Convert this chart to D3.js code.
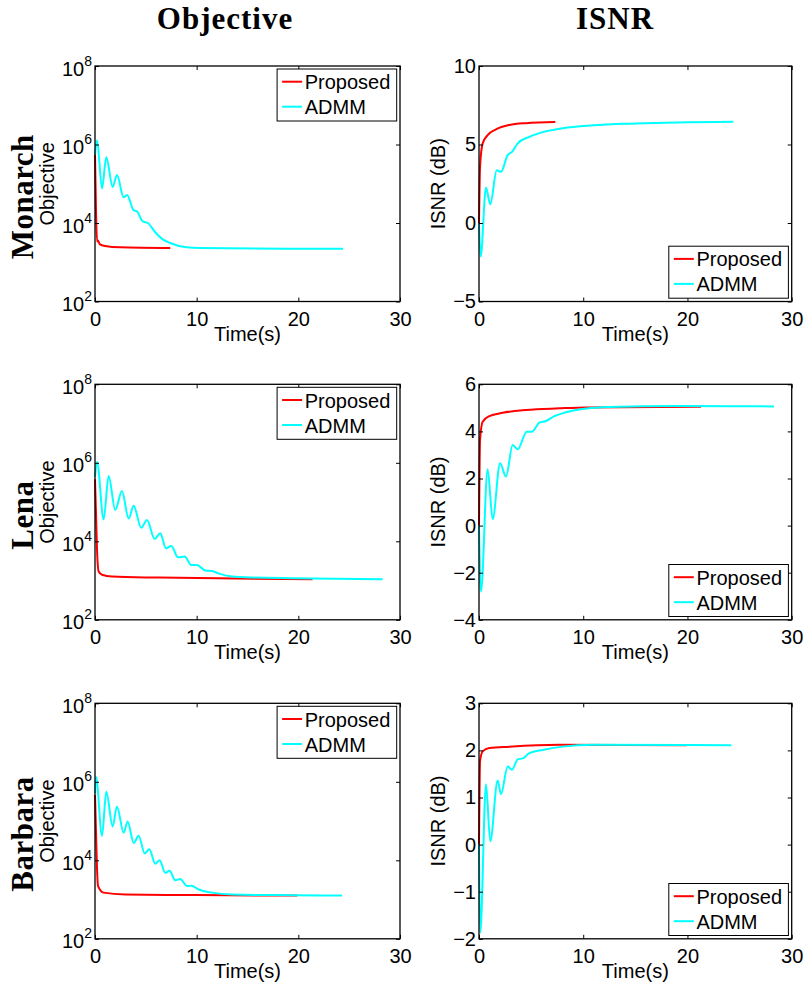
<!DOCTYPE html>
<html><head><meta charset="utf-8">
<script src="https://cdn.jsdelivr.net/npm/d3@7"></script>
<style>body{margin:0;background:#fff} svg{display:block}</style>
</head><body><svg id="c" width="806" height="991"></svg>
<script>
// ---------- data ----------
const columnTitles = ['Objective', 'ISNR'];
const rowNames = ['Monarch', 'Lena', 'Barbara'];
const seriesNames = ['Proposed', 'ADMM'];
const timeTicks = [0, 10, 20, 30];
const objTicks = [1e2, 1e4, 1e6, 1e8];
const isnrTicksMonarch = [-5, 0, 5, 10];
const isnrTicksLena = [-4, -2, 0, 2, 4, 6];
const isnrTicksBarbara = [-2, -1, 0, 1, 2, 3];

// [time (s), objective]
const monarchObjProposed = [[0,5.4e5],[0.1,2e4],[0.2,3.4e3],[0.3,3.6e3],[0.45,2.9e3],[1.0,2.6e3],[2.5,2.4e3],[7.4,2.3e3]];
const monarchObjADMM = [[0,5.4e5],[0.2,1.29e6],[0.69,7.6e4],[1.11,4.7e5],[1.74,8.3e4],[2.16,1.66e5],[2.82,4.5e4],[3.15,5.2e4],[3.81,2.1e4],[4.1,2.0e4],[4.7,1.1e4],[5.2,1.0e4],[5.9,5.9e3],[6.56,4.0e3],[7.38,3.1e3],[9.02,2.4e3],[10.3,2.3e3],[24.4,2.2e3]];
const lenaObjProposed = [[0,3.8e5],[0.1,5e4],[0.2,6e3],[0.36,1.7e3],[0.69,1.4e3],[1.67,1.26e3],[6.3,1.19e3],[21.4,1.08e3]];
const lenaObjADMM = [[0,4.4e5],[0.2,1.05e6],[0.85,3.6e4],[1.34,4.6e5],[1.99,6.3e4],[2.65,1.9e5],[3.31,3.8e4],[3.8,8.0e4],[4.55,2.2e4],[5.11,3.5e4],[5.87,1.15e4],[6.42,1.6e4],[6.98,6.6e3],[7.51,7.6e3],[8.16,3.9e3],[8.82,4.1e3],[9.47,2.5e3],[10.03,2.5e3],[10.85,1.8e3],[11.5,1.75e3],[12.2,1.5e3],[13.5,1.26e3],[15.5,1.19e3],[19.5,1.15e3],[28.3,1.08e3]];
const barbaraObjProposed = [[0,4.6e5],[0.1,5e4],[0.2,6e3],[0.3,2.2e3],[0.85,1.5e3],[3,1.35e3],[10,1.3e3],[19.9,1.26e3]];
const barbaraObjADMM = [[0,5.1e5],[0.1,1.35e6],[0.69,4.2e4],[1.11,5.6e5],[1.74,7.3e4],[2.16,2.35e5],[2.82,5.0e4],[3.21,9.8e4],[3.81,2.75e4],[4.29,4.2e4],[4.89,1.5e4],[5.34,1.9e4],[5.93,8.2e3],[6.36,1.0e4],[6.91,4.8e3],[7.34,5.4e3],[7.89,3.1e3],[8.38,3.35e3],[9.05,2.2e3],[9.47,2.26e3],[10.2,1.8e3],[11.5,1.5e3],[13.5,1.34e3],[19.4,1.29e3],[24.3,1.26e3]];

// [time (s), ISNR (dB)]
const monarchIsnrProposed = [[0,0],[0.1,3.57],[0.35,5.07],[0.83,5.6],[1.63,5.96],[2.91,6.24],[4.51,6.36],[7.32,6.43]];
const monarchIsnrADMM = [[0,0],[0.16,-2.13],[0.67,2.26],[1.08,1.19],[1.7,3.36],[2.11,3.26],[2.75,4.32],[3.17,4.53],[3.71,5.07],[4.83,5.49],[6.11,5.79],[8.03,6.04],[10.9,6.22],[15.1,6.34],[24.4,6.45]];
const lenaIsnrProposed = [[0,0],[0.1,3.64],[0.35,4.41],[0.99,4.65],[2.27,4.79],[4.51,4.91],[7.7,4.98],[10.3,5.02],[21.3,5.05]];
const lenaIsnrADMM = [[0,0],[0.19,-2.8],[0.83,2.39],[1.31,0.27],[2.02,2.65],[2.59,2.08],[3.23,3.42],[3.71,3.24],[4.58,3.99],[5.09,3.99],[5.79,4.37],[6.43,4.44],[7.23,4.65],[8.35,4.81],[9.95,4.95],[12.5,5.04],[18.9,5.08],[28.3,5.06]];
const barbaraIsnrProposed = [[0,0],[0.1,1.77],[0.35,1.98],[0.99,2.05],[2.91,2.08],[7.7,2.12],[19.9,2.11]];
const barbaraIsnrADMM = [[0,0],[0.12,-1.87],[0.67,1.28],[1.08,0.07],[1.79,1.36],[2.11,1.07],[2.75,1.66],[3.17,1.59],[3.71,1.81],[4.19,1.83],[4.83,1.94],[6.11,2.01],[8.03,2.08],[10.9,2.12],[24.2,2.11]];

// ---------- layout ----------
const svg = d3.select('#c');
const SANS = "'Liberation Sans', Arial, Helvetica, sans-serif";
const SERIF = "'Liberation Serif', 'Times New Roman', serif";
const colX = [95, 479], colW = [305, 312.7];
const rowY = [66, 384.3, 703.3], H = 235.5;
const colors = ['#ff0000', '#00ffff'];

const rows = [
  {objP: monarchObjProposed, objA: monarchObjADMM, isP: monarchIsnrProposed, isA: monarchIsnrADMM, isTicks: isnrTicksMonarch},
  {objP: lenaObjProposed, objA: lenaObjADMM, isP: lenaIsnrProposed, isA: lenaIsnrADMM, isTicks: isnrTicksLena},
  {objP: barbaraObjProposed, objA: barbaraObjADMM, isP: barbaraIsnrProposed, isA: barbaraIsnrADMM, isTicks: isnrTicksBarbara}
];

function styleAxis(g){
  g.attr('font-family', SANS).attr('font-size', 20);
  g.select('.domain').remove();
  g.selectAll('.tick line').attr('stroke', '#000').attr('stroke-width', 1);
  g.selectAll('.tick text').attr('fill', '#000');
}

function drawPanel(o){
  const x = d3.scaleLinear().domain([0, 30]).range([o.x0, o.x0 + o.w]);
  const y = o.y;
  const top = o.top, bottom = o.top + H, right = o.x0 + o.w;
  const g = svg.append('g');
  g.append('rect').attr('x', o.x0).attr('y', top).attr('width', o.w).attr('height', H).attr('fill', '#fff');

  const line = d3.line().x(d => x(d[0])).y(d => y(d[1])).curve(d3.curveMonotoneX);
  o.series.forEach((s, k) => {
    g.append('path').datum(s).attr('d', line).attr('fill', 'none')
      .attr('stroke', colors[k]).attr('stroke-width', 2).attr('stroke-linejoin', 'round');
  });

  // axes
  g.append('g').attr('transform', `translate(0,${bottom})`)
    .call(d3.axisBottom(x).tickValues(timeTicks).tickSize(-4).tickSizeOuter(0).tickPadding(10).tickFormat(d3.format('d')))
    .call(styleAxis);
  g.append('g').attr('transform', `translate(0,${top})`)
    .call(d3.axisTop(x).tickValues(timeTicks).tickSize(-4).tickSizeOuter(0).tickFormat(''))
    .call(styleAxis);
  const yl = g.append('g').attr('transform', `translate(${o.x0},0)`)
    .call(d3.axisLeft(y).tickValues(o.ticks).tickSize(-4).tickSizeOuter(0).tickPadding(3)
      .tickFormat(o.log ? (() => '') : (d => d < 0 ? '\u2212' + Math.abs(d) : String(d))))
    .call(styleAxis);
  if (o.log) {
    yl.selectAll('.tick text').each(function(d){
      const t = d3.select(this).attr('dy', null).attr('y', 9).text(null);
      t.append('tspan').text('10');
      t.append('tspan').attr('dy', -10).attr('font-size', 14).text(String(Math.round(Math.log10(d))));
    });
  }
  g.append('g').attr('transform', `translate(${right},0)`)
    .call(d3.axisRight(y).tickValues(o.ticks).tickSize(-4).tickSizeOuter(0).tickFormat(''))
    .call(styleAxis);

  g.append('rect').attr('x', o.x0).attr('y', top).attr('width', o.w).attr('height', H)
    .attr('fill', 'none').attr('stroke', '#000').attr('stroke-width', 1.3);

  // x label
  g.append('text').attr('x', (o.x0 + right) / 2).attr('y', bottom + 39)
    .attr('text-anchor', 'middle').attr('font-family', SANS).attr('font-size', 20).text('Time(s)');
  // y label
  g.append('text').attr('transform', `translate(${o.ylabelX},${(top + bottom) / 2}) rotate(-90)`)
    .attr('text-anchor', 'middle').attr('font-family', SANS).attr('font-size', 20).text(o.ylabel);

  // legend
  const lw = 119.6, lh = 52;
  const lx = right - 3.3 - lw;
  const ly = o.legendTop ? top + 3 : bottom - 3.3 - lh;
  const lg = g.append('g').attr('transform', `translate(${lx},${ly})`);
  lg.append('rect').attr('width', lw).attr('height', lh).attr('fill', '#fff').attr('stroke', '#000').attr('stroke-width', 1);
  seriesNames.forEach((name, k) => {
    const yy = 12.7 + k * 25;
    lg.append('line').attr('x1', 5).attr('x2', 25).attr('y1', yy).attr('y2', yy)
      .attr('stroke', colors[k]).attr('stroke-width', 2);
    lg.append('text').attr('x', 27.6).attr('y', yy + 7.6).attr('font-family', SANS).attr('font-size', 20).text(name);
  });
}

// column titles
svg.append('text').attr('x', 225).attr('y', 29).attr('text-anchor', 'middle')
  .attr('font-family', SERIF).attr('font-weight', 'bold').attr('font-size', 31)
  .attr('letter-spacing', 1).text(columnTitles[0]);
svg.append('text').attr('x', 615).attr('y', 29).attr('text-anchor', 'middle')
  .attr('font-family', SERIF).attr('font-weight', 'bold').attr('font-size', 31)
  .attr('letter-spacing', 1).text(columnTitles[1]);

rows.forEach((r, i) => {
  const top = rowY[i];
  const yObj = d3.scaleLog().domain([1e2, 1e8]).range([top + H, top]);
  const t = r.isTicks;
  const yIs = d3.scaleLinear().domain([t[0], t[t.length - 1]]).range([top + H, top]);
  drawPanel({x0: colX[0], w: colW[0], top, y: yObj, ticks: objTicks, log: true,
    series: [r.objP, r.objA], legendTop: true, ylabel: 'Objective', ylabelX: 54});
  drawPanel({x0: colX[1], w: colW[1], top, y: yIs, ticks: t, log: false,
    series: [r.isP, r.isA], legendTop: false, ylabel: 'ISNR (dB)', ylabelX: 445});
  svg.append('text').attr('transform', `translate(33,${top + H / 2 + 13}) rotate(-90)`)
    .attr('text-anchor', 'middle').attr('font-family', SERIF).attr('font-weight', 'bold')
    .attr('font-size', 31).attr('letter-spacing', 0.5).text(rowNames[i]);
});
</script>
</body></html>
